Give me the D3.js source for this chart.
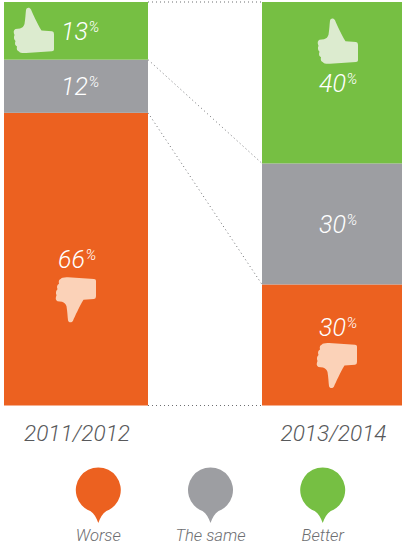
<!DOCTYPE html>
<html><head><meta charset="utf-8">
<style>html,body{margin:0;padding:0;background:#fff}svg{display:block}text{font-family:Roboto,sans-serif;font-style:italic;font-weight:300}</style>
<script src="https://cdn.jsdelivr.net/npm/d3@7"></script>
</head><body><svg id="c" width="402" height="545"></svg>
<script>
const periods = ["2011/2012", "2013/2014"];
const categories = ["Worse", "The same", "Better"];
const worse = [66, 30];
const same = [12, 30];
const better = [13, 40];
const colors = ["#ec6120", "#9d9ea2", "#76bf43"];
const icons = ["#fbd2b8", null, "#dcebcf"];

const svg = d3.select("#c");
const rows = periods.map((p, i) => ({period: p, Worse: worse[i], "The same": same[i], Better: better[i]}));
const stack = d3.stack().keys(categories).offset(d3.stackOffsetExpand)(rows);
const y = d3.scaleLinear().domain([0, 1]).range([405.5, 2]);
const barX = d3.scaleOrdinal().domain(periods).range([4, 262]);
const barW = d3.scaleOrdinal().domain(periods).range([144, 140]);
const thumb = "M13,2C13.5,-0.5 16.5,-1 18,1.5C20,6 24,15 28.5,22.5L39,23.2Q41,23.5 41,26L41,41.5Q41,43 39,43.2L13,45Q7,45.3 6,43.5Q3,42.5 4,38.5Q1,37 2.5,33Q0,30.5 1.5,27Q-0.5,22.5 2.5,21L7,20.5Q10.5,19.5 11.5,16C12.5,10 12.5,6 13,2Z";

// connectors
const line = svg.append("g").attr("fill", "none").attr("stroke", "#6d6e71").attr("stroke-width", 1).attr("stroke-dasharray", "1 3");
const levels = [0, 1, 2].map(k => periods.map((p, i) => stack[k][i][0]));
levels.push(periods.map(() => 1));
levels.forEach(l => {
  line.append("path").attr("d", d3.line()([
    [barX(periods[0]) + barW(periods[0]), y(l[0])],
    [barX(periods[1]), y(l[1])]
  ]));
});

// bars
stack.forEach((s, k) => {
  svg.append("g").attr("fill", colors[k]).selectAll("rect").data(s).join("rect")
    .attr("x", d => barX(d.data.period))
    .attr("width", d => barW(d.data.period))
    .attr("y", d => y(d[1]))
    .attr("height", d => y(d[0]) - y(d[1]));
});

// value labels, icons
const labelX = [57, 318];
const iconX = [13, 317];
stack.forEach((s, k) => s.forEach((d, i) => {
  const mid = (y(d[0]) + y(d[1])) / 2;
  const below = k === 0 && i === 1;
  const base = below ? mid - 9 : mid + 9;
  const t = svg.append("text").attr("x", labelX[i] + (d.data[categories[k]] < 20 ? 4 : 1)).attr("y", base)
    .attr("fill", "#fff").attr("font-size", 25).text(d.data[categories[k]]);
  t.append("tspan").attr("font-size", 15).attr("dy", -8).attr("dx", 0.5).text("%");
  if (k === 0) {
    const top = below ? base + 7 : base + 9;
    svg.append("path").attr("d", thumb).attr("fill", icons[0])
      .attr("transform", `translate(${i ? 316 : 55},${top + 45}) scale(1,-1)`);
  }
  if (k === 2) {
    const top = i ? mid - 64 : 8;
    svg.append("path").attr("d", thumb).attr("fill", icons[2])
      .attr("transform", `translate(${iconX[i]},${top})`);
  }
}));

// period labels
svg.selectAll(".p").data(periods).join("text").attr("class", "p")
  .attr("x", (d, i) => [77, 333.5][i]).attr("y", 441)
  .attr("text-anchor", "middle").attr("font-size", 22.6).attr("fill", "#58595b").text(d => d);

// legend
const legX = d3.scalePoint().domain(categories).range([98.3, 322.7]);
const pin = d3.path();
pin.moveTo(0, 33); pin.bezierCurveTo(-2, 28, -4, 23.5, -8, 21);
pin.arc(0, 0, 22.5, Math.PI - Math.asin(21 / 22.5), Math.asin(21 / 22.5), false);
pin.bezierCurveTo(4, 23.5, 2, 28, 0, 33); pin.closePath();
const leg = svg.selectAll(".l").data(categories).join("g").attr("class", "l")
  .attr("transform", d => `translate(${legX(d)},490)`);
leg.append("path").attr("d", pin.toString()).attr("fill", (d, i) => colors[i]);
leg.append("text").attr("y", 51).attr("text-anchor", "middle").attr("font-size", 16.6).attr("fill", "#6d6e71").text(d => d);
</script></body></html>
